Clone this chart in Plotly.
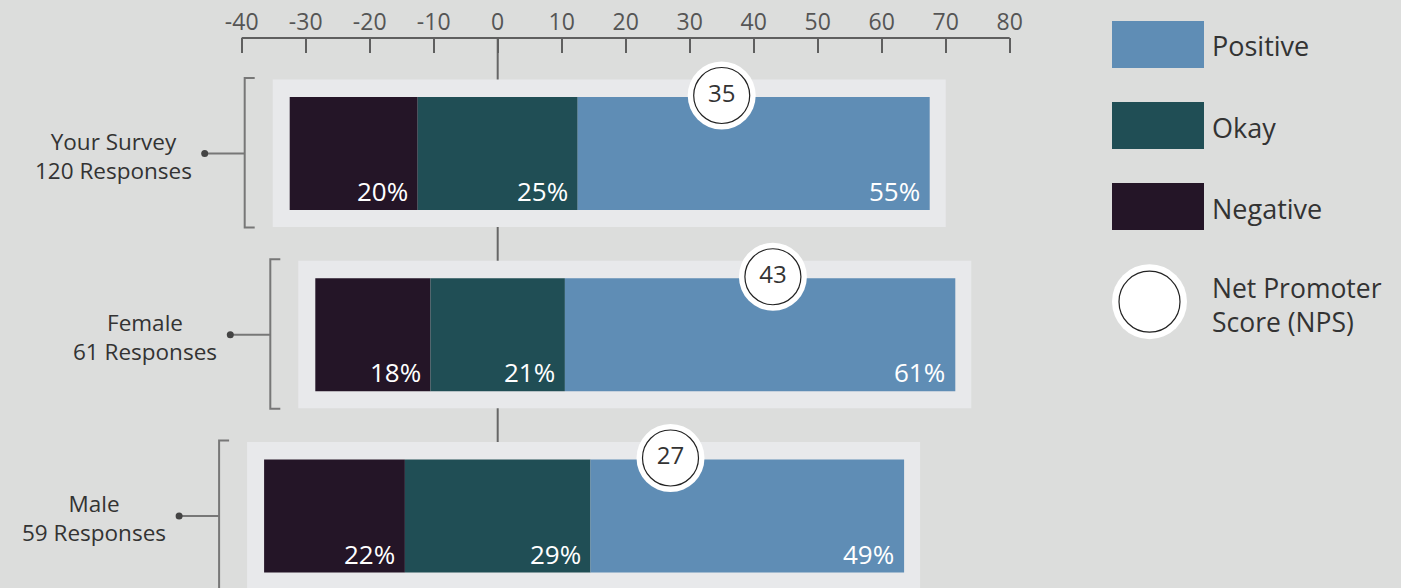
import plotly.graph_objects as go

# ---- data ----
groups = ["Your Survey", "Female", "Male"]
responses = [120, 61, 59]
negative = [20, 18, 22]
okay = [25, 21, 29]
positive = [55, 61, 49]
nps = [35, 43, 27]
tick_values = [-40, -30, -20, -10, 0, 10, 20, 30, 40, 50, 60, 70, 80]
legend_labels = ["Positive", "Okay", "Negative"]

# ---- style ----
W, H = 1401, 588
TOP = 38
BG = "#dcdddc"
PANEL = "#e8e9eb"
C_NEG = "#241527"
C_OK = "#204e55"
C_POS = "#5f8db5"
TXT = "#333333"
AX = "#5f5f5f"
LINE = "#777777"
FONT = "Open Sans"

PX_PER_UNIT = 6.4          # x scale
X_ZERO_PX = 497.7
ROW_PX = 181.25            # y scale
ROW0_PX = 153.5
BAR_W = 113 / ROW_PX

x_range = [-X_ZERO_PX / PX_PER_UNIT, (W - X_ZERO_PX) / PX_PER_UNIT]
y_range = [(H - ROW0_PX) / ROW_PX, (TOP - ROW0_PX) / ROW_PX]

def px_x(n):  # pixel offset -> x units
    return n / PX_PER_UNIT

def px_y(n):
    return n / ROW_PX

ys = list(range(len(groups)))
neg_base = [-o / 2 - n for o, n in zip(okay, negative)]
ok_base = [-o / 2 for o in okay]
pos_base = [o / 2 for o in okay]

fig = go.Figure()
for vals, base, col in [(negative, neg_base, C_NEG), (okay, ok_base, C_OK), (positive, pos_base, C_POS)]:
    fig.add_trace(go.Bar(y=ys, x=vals, base=base, orientation="h", width=BAR_W,
                         marker=dict(color=col, line=dict(width=0)),
                         hoverinfo="skip", showlegend=False))

shapes = []
# zero line
shapes.append(dict(type="line", xref="x", yref="y", x0=0, x1=0, y0=y_range[1], y1=y_range[0],
                   line=dict(color="#666666", width=2), layer="below"))
# top axis line
shapes.append(dict(type="line", xref="x", yref="paper", x0=tick_values[0], x1=tick_values[-1], y0=1, y1=1,
                   line=dict(color=AX, width=2), layer="above"))

annotations = []
dot_x, dot_y = [], []
pad = px_x(17)
for i, g in enumerate(groups):
    left = neg_base[i]
    right = pos_base[i] + positive[i]
    # panel
    shapes.append(dict(type="rect", xref="x", yref="y", x0=left - pad, x1=right + px_x(16),
                       y0=i - px_y(74), y1=i + px_y(73.5), fillcolor=PANEL, line=dict(width=0), layer="below"))
    # bracket
    xb = left - pad - px_x(28)
    yt, yb = i - px_y(75.5), i + px_y(74)
    shapes.append(dict(type="path", xref="x", yref="y",
                       path=f"M {xb + px_x(10)} {yt} L {xb} {yt} L {xb} {yb} L {xb + px_x(10)} {yb}",
                       line=dict(color=LINE, width=2), layer="below"))
    xd = xb - px_x(40)
    shapes.append(dict(type="line", xref="x", yref="y", x0=xd, x1=xb, y0=i, y1=i,
                       line=dict(color=LINE, width=2), layer="below"))
    dot_x.append(xd)
    dot_y.append(i)
    annotations.append(dict(x=xd, y=i, xref="x", yref="y", xanchor="right", yanchor="middle",
                            xshift=-11, yshift=-2, text=f"{g}<br>{responses[i]} Responses", align="center",
                            showarrow=False, font=dict(family=FONT, size=22.5, color=TXT)))
    # percent labels
    for vals, base in [(negative, neg_base), (okay, ok_base), (positive, pos_base)]:
        annotations.append(dict(x=base[i] + vals[i], y=i + BAR_W / 2, xref="x", yref="y",
                                xanchor="right", yanchor="middle", xshift=-8, yshift=19,
                                text=f"{vals[i]}%", showarrow=False,
                                font=dict(family=FONT, size=26, color="white")))

fig.add_trace(go.Scatter(x=dot_x, y=dot_y, mode="markers",
                         marker=dict(size=7, color="#444444"), hoverinfo="skip", showlegend=False))

# NPS circles
nps_y = [i - BAR_W / 2 - px_y(1.5) for i in ys]
fig.add_trace(go.Scatter(x=nps, y=nps_y, mode="markers",
                         marker=dict(size=68, color="white", line=dict(width=0)),
                         hoverinfo="skip", showlegend=False))
fig.add_trace(go.Scatter(x=nps, y=nps_y, mode="markers+text", text=[str(v) for v in nps],
                         textposition="middle center",
                         textfont=dict(family=FONT, size=24, color=TXT),
                         marker=dict(size=56, color="white", line=dict(width=1.2, color="#222222")),
                         hoverinfo="skip", showlegend=False))

# ---- legend (paper coords) ----
def pxp(x):
    return x / W

def pyp(y):
    return (H - y) / (H - TOP)

legend_colors = [C_POS, C_OK, C_NEG]
for k, (lab, col) in enumerate(zip(legend_labels, legend_colors)):
    top = 21 + 81 * k
    shapes.append(dict(type="rect", xref="paper", yref="paper", x0=pxp(1112), x1=pxp(1204),
                       y0=pyp(top + 47), y1=pyp(top), fillcolor=col, line=dict(width=0)))
    annotations.append(dict(x=pxp(1210), y=pyp(top + 25), xref="paper", yref="paper",
                            xanchor="left", yanchor="middle", text=lab, showarrow=False,
                            font=dict(family=FONT, size=27, color=TXT)))
cx, cy = 1149.5, 301.7
for r, lw in [(37.5, 0), (30.5, 1.2)]:
    shapes.append(dict(type="circle", xref="paper", yref="paper",
                       x0=pxp(cx - r), x1=pxp(cx + r), y0=pyp(cy + r), y1=pyp(cy - r),
                       fillcolor="white", line=dict(width=lw, color="#222222")))
annotations.append(dict(x=pxp(1210), y=pyp(305), xref="paper", yref="paper",
                        xanchor="left", yanchor="middle", text="Net Promoter<br>Score (NPS)",
                        align="left", showarrow=False, font=dict(family=FONT, size=26.5, color=TXT)))

fig.update_layout(
    width=W, height=H, margin=dict(l=0, r=0, t=TOP, b=0),
    paper_bgcolor=BG, plot_bgcolor=BG, barmode="overlay",
    shapes=shapes, annotations=annotations, showlegend=False,
    xaxis=dict(range=x_range, domain=[0, 1], side="top", tickvals=tick_values,
               ticktext=[str(v) for v in tick_values], ticks="inside", ticklen=15,
               tickwidth=2, tickcolor=AX, showline=False, showgrid=False, zeroline=False,
               tickfont=dict(family=FONT, size=23, color="#555555"), fixedrange=True,
               ticklabelstandoff=2),
    yaxis=dict(range=y_range, showticklabels=False, showgrid=False, zeroline=False,
               showline=False, ticks="", fixedrange=True),
)

fig.write_html("out.html")
